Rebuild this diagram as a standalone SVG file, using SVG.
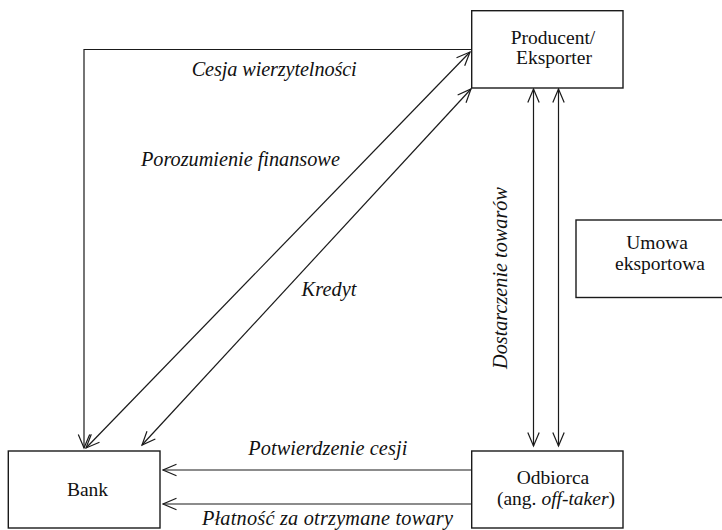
<svg xmlns="http://www.w3.org/2000/svg" width="722" height="530" viewBox="0 0 722 530">
<style>
.box{fill:#fff;stroke:#1a1a1a;stroke-width:1.4}
.t{font-family:'Liberation Serif','Times New Roman',Times,serif;font-size:20.3px;fill:#111;text-anchor:middle}
.n{font-size:19.5px}
.i{font-style:italic}
.c{fill:none;stroke:#1a1a1a;stroke-width:1.2}
</style>
<defs>
<marker id="a" markerUnits="userSpaceOnUse" markerWidth="16" markerHeight="14" viewBox="0 0 16 14" refX="14.5" refY="7" orient="auto-start-reverse">
<path d="M1,1.3 L14.5,7 L1,12.7" fill="none" stroke="#1a1a1a" stroke-width="1.2"/>
</marker>
</defs>
<rect width="722" height="530" fill="#fff"/>
<g id="connectors">
<polyline class="c" points="471.5,49.5 84,49.5 84,448" marker-end="url(#a)"/>
<line class="c" x1="86" y1="448" x2="470" y2="52" marker-start="url(#a)" marker-end="url(#a)"/>
<line class="c" x1="142" y1="445" x2="471" y2="89" marker-start="url(#a)" marker-end="url(#a)"/>
<line class="c" x1="533.5" y1="89" x2="533.5" y2="446" marker-start="url(#a)" marker-end="url(#a)"/>
<line class="c" x1="558.5" y1="89" x2="558.5" y2="446" marker-start="url(#a)" marker-end="url(#a)"/>
<line class="c" x1="471.5" y1="470" x2="163" y2="470" marker-end="url(#a)"/>
<line class="c" x1="471.5" y1="504" x2="163" y2="504" marker-end="url(#a)"/>
<text class="t i" x="274.2" y="76" textLength="165">Cesja wierzytelności</text>
<text class="t i" x="240.4" y="166" textLength="199">Porozumienie finansowe</text>
<text class="t i" x="329" y="296" textLength="55">Kredyt</text>
<text class="t i" transform="translate(507,278) rotate(-90)" x="0" y="0" textLength="182">Dostarczenie towarów</text>
<text class="t i" x="327.8" y="455" textLength="159">Potwierdzenie cesji</text>
<text class="t i" x="327.4" y="525" textLength="251">Płatność za otrzymane towary</text>
</g>
<g id="producent">
<rect class="box" x="471.7" y="10.7" width="151.3" height="77.3"/>
<text class="t n" x="553" y="43.5">Producent/</text>
<text class="t n" x="554" y="64">Eksporter</text>
</g>
<g id="bank">
<rect class="box" x="8.3" y="451" width="151.7" height="77"/>
<text class="t n" x="87.5" y="496">Bank</text>
</g>
<g id="odbiorca">
<rect class="box" x="471.7" y="451" width="151.3" height="77"/>
<text class="t n" x="553" y="484">Odbiorca</text>
<text class="t n" x="556" y="504.5">(ang. <tspan class="i">off-taker</tspan>)</text>
</g>
<g id="umowa">
<rect class="box" x="576" y="220" width="150" height="77.5"/>
<text class="t n" x="657" y="249">Umowa</text>
<text class="t n" x="660" y="269.5">eksportowa</text>
</g>
</svg>
